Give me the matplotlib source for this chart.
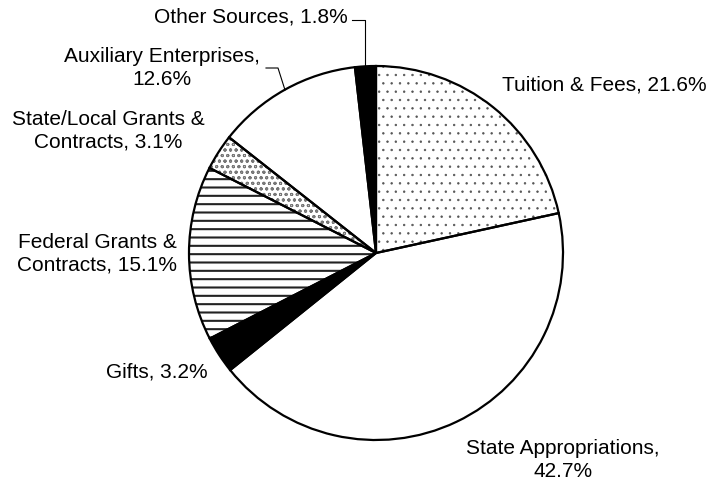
import matplotlib.pyplot as plt

plt.rcParams['font.family'] = ['Liberation Sans', 'DejaVu Sans']
plt.rcParams['hatch.linewidth'] = 1.5

# revenue sources, clockwise from 12 o'clock
sources = ["Tuition & Fees", "State Appropriations", "Gifts",
           "Federal Grants &\nContracts", "State/Local Grants &\nContracts",
           "Auxiliary Enterprises", "Other Sources"]
shares = [21.6, 42.7, 3.2, 15.1, 3.1, 12.6, 1.8]
fills = ["white", "white", "black", "white", "white", "white", "black"]
hatches = ["..", "", "", "--", "ooo", "", ""]
hatch_cols = ["#555555", "black", "black", "#222222", "#777777", "black", "black"]
hatch_lw = [0.5, 1, 1, 1.5, 0.7, 1, 1]

W, H = 715, 491
fig = plt.figure(figsize=(W / 100, H / 100), dpi=100)
ax = fig.add_axes([0, 0, 1, 1])

cx, cy, r = 376, H - 253, 187

# hatched fills first (hatch takes edge colour), then black outlines on top
wedges, _ = ax.pie(shares, center=(cx, cy), radius=r, startangle=90,
                   counterclock=False, frame=True,
                   wedgeprops=dict(linewidth=0))
for w, fc, h, hc, hl in zip(wedges, fills, hatches, hatch_cols, hatch_lw):
    w.set_facecolor(fc)
    w.set_hatch(h)
    w.set_edgecolor(hc)
    if hasattr(w, "set_hatch_linewidth"):
        w.set_hatch_linewidth(hl)
    else:
        w._hatch_linewidth = hl
ax.pie(shares, center=(cx, cy), radius=r, startangle=90, counterclock=False,
       frame=True, wedgeprops=dict(facecolor="none", edgecolor="black", linewidth=1.6))
ax.set_xlim(0, W)
ax.set_ylim(0, H)
ax.set_aspect("equal")
ax.axis("off")

fs = 15
def lab(x, y, s, ha="center"):
    ax.text(x, H - y, s, fontsize=fs, ha=ha, va="center", multialignment="center",
            linespacing=1.22)

lab(502, 85, f"{sources[0]}, {shares[0]}%", ha="left")
lab(563, 460, f"{sources[1]},\n{shares[1]}%")
lab(208, 372, f"{sources[2]}, {shares[2]}%", ha="right")
lab(97, 254, f"{sources[3]}, {shares[3]}%")
lab(108, 131, f"{sources[4]}, {shares[4]}%")
lab(162, 68, f"{sources[5]},\n{shares[5]}%")
lab(348, 17, f"{sources[6]}, {shares[6]}%", ha="right")

# leader lines
ax.plot([352, 365, 365], [H - 20, H - 20, H - 67], color="black", lw=0.8)
ax.plot([266, 278, 285], [H - 68, H - 68, H - 90], color="black", lw=0.8)

fig.savefig("out.png", dpi=100)
